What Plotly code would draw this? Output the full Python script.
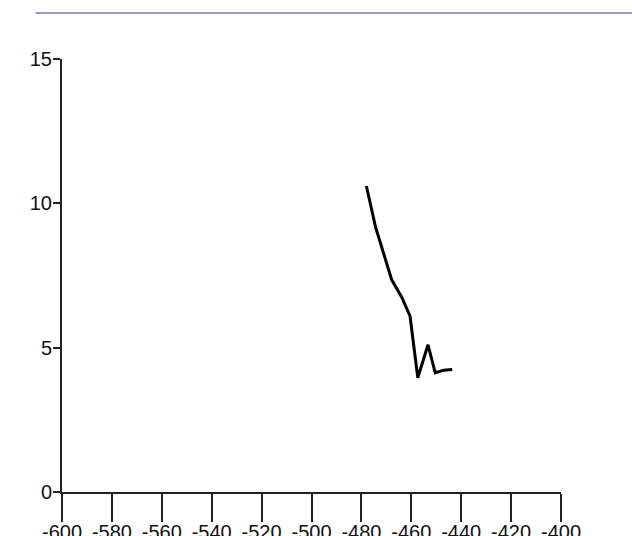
import plotly.graph_objects as go

x_vals = [-478.0, -474.3, -467.9, -463.8, -460.5, -457.4, -453.3, -450.4, -447.0, -443.6]
y_vals = [10.6, 9.17, 7.36, 6.74, 6.09, 3.96, 5.10, 4.13, 4.22, 4.24]

x_ticks = [-600, -580, -560, -540, -520, -500, -480, -460, -440, -420, -400]
x_labels = ["-600", "-580", "-560", "-540", "-520", "-500", "-480", "-460", "-440", "-420", "-400"]
y_ticks = [0, 5, 10, 15]
y_labels = ["0", "5", "10", "15"]

fig = go.Figure()
fig.add_trace(go.Scatter(x=x_vals, y=y_vals, mode="lines",
                         line=dict(color="black", width=3), showlegend=False))

fig.update_layout(
    width=632, height=536, autosize=False,
    margin=dict(l=62, r=71, t=59, b=44),
    paper_bgcolor="white", plot_bgcolor="white",
    font=dict(family="Liberation Sans Narrow, Liberation Sans, Arial, sans-serif", size=20, color="#111"),
    xaxis=dict(range=[-600, -400], tickvals=x_ticks, ticktext=x_labels, ticks="outside", ticklen=28,
               tickcolor="#222", tickwidth=2, showline=True, linecolor="#222", linewidth=2,
               showgrid=False, zeroline=False, automargin=False, ticklabelstandoff=-7),
    yaxis=dict(range=[0, 15], tickvals=y_ticks, ticktext=y_labels, ticks="outside", ticklen=7,
               tickcolor="#222", tickwidth=2, showline=True, linecolor="#222", linewidth=2,
               showgrid=False, zeroline=False, automargin=False, ticklabelstandoff=-3),
    shapes=[dict(type="line", xref="paper", yref="paper", x0=-0.053, x1=1.15,
                 y0=1.106, y1=1.106, line=dict(color="#9a9ad0", width=2))],
)

fig.write_html("out.html", config={"responsive": False, "displayModeBar": False},
               post_script="document.body.style.margin='0';document.body.style.overflow='hidden';")
